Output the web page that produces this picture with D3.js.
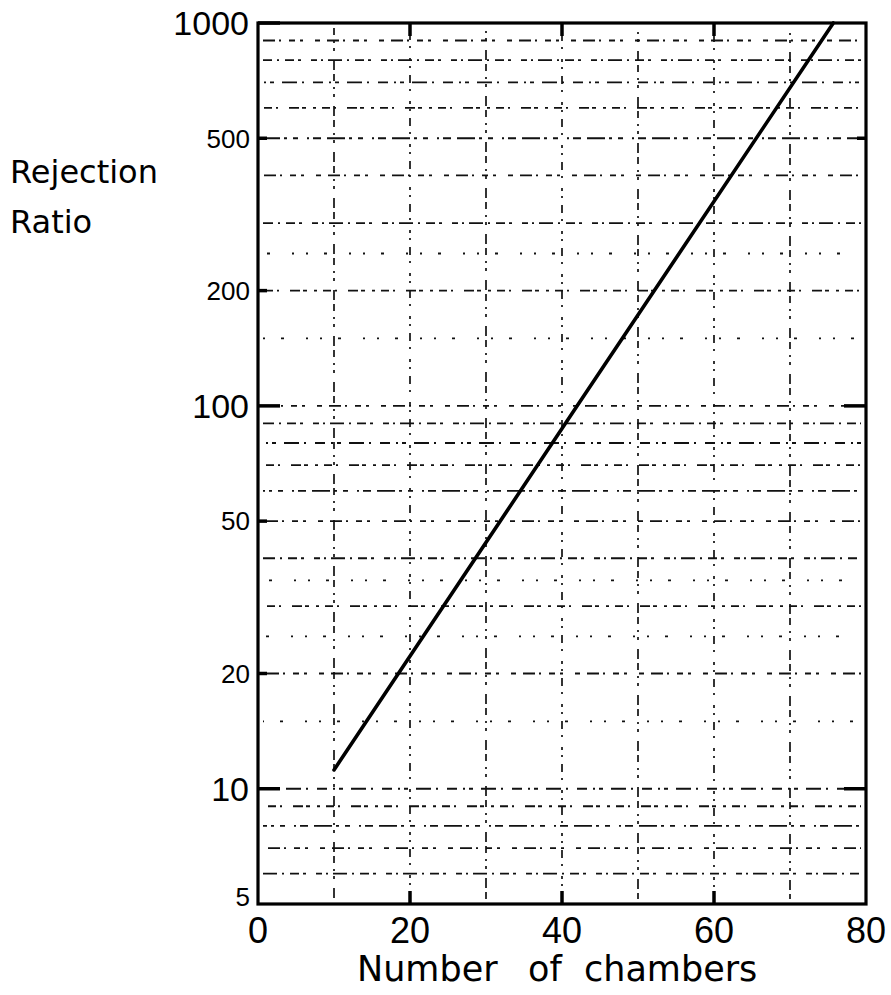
<!DOCTYPE html>
<html><head><meta charset="utf-8">
<script src="https://cdn.jsdelivr.net/npm/d3@7"></script>
<style>
body{margin:0;background:#fff}
svg text{fill:#000}
.num{font-family:"Liberation Sans",Arial,sans-serif}
.word{font-family:"DejaVu Sans",sans-serif}
</style>
</head><body>
<svg id="chart" width="891" height="995"></svg>
<script>
// Rejection ratio versus number of chambers (log scale)
const chambers = [10, 42, 75.7];
const rejection = [11.2, 100, 1000];
const xTicks = [0, 20, 40, 60, 80];
const yBigLabels = [10, 100, 1000];
const ySmallLabels = [5, 20, 50, 200, 500];
const yGrid = [6, 7, 8, 9, 10, 15, 20, 25, 30, 35, 40, 50, 60, 70, 80, 90, 100, 150, 200, 250, 300, 400, 500, 600, 700, 800, 900];
const yFaint = [15, 25, 35, 150, 250];
const xGrid = [10, 20, 30, 40, 50, 60, 70];
const xTitleWords = ["Number", "of", "chambers"];
const yTitleWords = ["Rejection", "Ratio"];

const svg = d3.select("#chart");
const plotL = 258, plotR = 866, plotT = 23, plotB = 904;
const x = d3.scaleLinear().domain([0, 80]).range([plotL, plotR]);
const y = d3.scaleLog().domain([5, 1000]).range([plotB, plotT]);

// broken graph-paper rulings
const dashes = [
  "14,5,2,6,9,4,3,10,6,4,2,5",
  "5,7,12,4,2,8,6,5,3,12",
  "18,4,3,6,5,9,2,4,8,6",
  "3,6,8,4,2,11,10,3,4,7",
  "10,6,2,4,4,8,15,5,2,9"
];
const g = svg.append("g");
g.selectAll("line.h").data(yGrid).join("line")
  .attr("x1", plotL + 5).attr("x2", plotR - 5)
  .attr("y1", d => y(d)).attr("y2", d => y(d))
  .attr("stroke", "#111")
  .attr("stroke-width", 1.8)
  .attr("stroke-dasharray", (d, i) => yFaint.includes(d) ? "2,16,3,22,2,12" : dashes[i % dashes.length])
  .attr("stroke-dashoffset", (d, i) => (i * 7) % 17);
g.selectAll("line.v").data(xGrid).join("line")
  .attr("x1", d => x(d)).attr("x2", d => x(d))
  .attr("y1", plotT + 5).attr("y2", plotB - 5)
  .attr("stroke", "#111")
  .attr("stroke-width", 1.7)
  .attr("stroke-dasharray", (d, i) => i % 2 ? "2,7,8,6,2,10,3,5" : "7,6,2,5,3,9,10,4")
  .attr("stroke-dashoffset", (d, i) => (i * 5) % 11);

// frame
svg.append("rect").attr("x", plotL).attr("y", plotT)
  .attr("width", plotR - plotL).attr("height", plotB - plotT)
  .attr("fill", "none").attr("stroke", "#000").attr("stroke-width", 3.2);

// ticks
const tk = svg.append("g").attr("stroke", "#000").attr("stroke-width", 3.5);
tk.selectAll("line.lm").data(yBigLabels).join("line")
  .attr("x1", plotL).attr("x2", plotL + 22).attr("y1", d => y(d)).attr("y2", d => y(d));
tk.selectAll("line.ls").data(ySmallLabels.filter(d => d > 5)).join("line")
  .attr("x1", plotL).attr("x2", plotL + 9).attr("y1", d => y(d)).attr("y2", d => y(d));
tk.selectAll("line.rm").data([10, 100]).join("line")
  .attr("x1", plotR).attr("x2", plotR - 22).attr("y1", d => y(d)).attr("y2", d => y(d));
tk.selectAll("line.rs").data([500]).join("line")
  .attr("x1", plotR).attr("x2", plotR - 9).attr("y1", d => y(d)).attr("y2", d => y(d));
tk.selectAll("line.b").data([20, 40, 60]).join("line")
  .attr("x1", d => x(d)).attr("x2", d => x(d)).attr("y1", plotB).attr("y2", plotB - 13);
tk.selectAll("line.t").data([20, 40, 60]).join("line")
  .attr("x1", d => x(d)).attr("x2", d => x(d)).attr("y1", plotT).attr("y2", plotT + 13);

// tick labels
svg.selectAll("text.yb").data(yBigLabels).join("text").attr("class", "num")
  .attr("x", plotL - 9).attr("y", d => y(d)).attr("dy", "0.36em")
  .attr("text-anchor", "end").attr("font-size", 34).text(d => d);
svg.selectAll("text.ys").data(ySmallLabels).join("text").attr("class", "num")
  .attr("x", plotL - 8).attr("y", d => d === 5 ? y(d) - 7 : y(d)).attr("dy", "0.36em")
  .attr("text-anchor", "end").attr("font-size", 26).text(d => d);
svg.selectAll("text.x").data(xTicks).join("text").attr("class", "num")
  .attr("x", d => x(d)).attr("y", plotB + 39)
  .attr("text-anchor", "middle").attr("font-size", 36).text(d => d);

// axis titles
svg.append("text").attr("class", "word").attr("font-size", 32)
  .selectAll("tspan").data(yTitleWords).join("tspan")
  .attr("x", 10).attr("y", (d, i) => 183 + i * 50).text(d => d);
svg.append("text").attr("class", "word").attr("font-size", 35)
  .selectAll("tspan").data(xTitleWords).join("tspan")
  .attr("x", (d, i) => [357, 528, 584][i]).attr("y", 981).text(d => d);

// the curve
const line = d3.line().x((d, i) => x(chambers[i])).y(d => y(d));
svg.append("path").datum(rejection).attr("d", line)
  .attr("fill", "none").attr("stroke", "#000").attr("stroke-width", 3.6).attr("stroke-linecap", "round");
</script>
</body></html>
